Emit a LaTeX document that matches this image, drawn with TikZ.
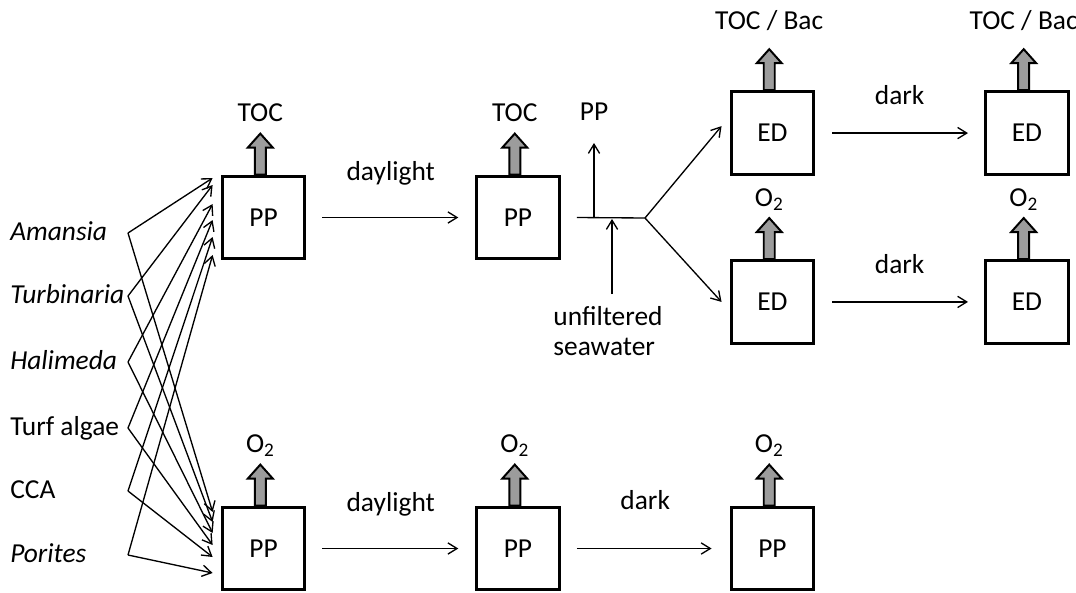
\documentclass[tikz,border=0pt]{standalone}
\usepackage{fontspec}
\setmainfont{Carlito}
\usepackage{tikz}
\usetikzlibrary{arrows.meta}
\usetikzlibrary{positioning}
\tikzset{
    box/.style={
           rectangle,
           draw=black, line width=2.1pt,
           minimum width=2.07cm, minimum height=2.07cm,
           inner sep=0pt,
           text centered,
           },
    flow/.style={->, line width=0.95pt},
    flux/.style={draw=black, line width=1.4pt, fill=gray!78},
    taxon/.style={anchor=base west, inner sep=0pt},
    steplabel/.style={anchor=base, yshift=0.92cm},
    darklabel/.style={anchor=base, yshift=0.72cm},
}
% grey output arrow on top of a box, with its label
\newcommand{\outflow}[3][0.3cm]{%
  \begin{scope}[shift={([xshift=-0.08cm]#2.north)}]
    \draw[flux] (-5.5,0) -- (-5.5,-27) -- (-12.5,-27) -- (0,-41) -- (12.5,-27) -- (5.5,-27) -- (5.5,0) -- cycle;
    \coordinate (#2-tip) at (0,-41);
  \end{scope}
  \node[anchor=base, yshift=#1] (#2-out) at (#2-tip) {#3};
}

\begin{document}
\begin{tikzpicture}[x=0.025cm, y=-0.025cm, >={Straight Barb[length=6.5pt,width=8pt]},
    font=\fontsize{19.5}{21.5}\selectfont, node distance=6.36cm]
    \useasboundingbox (0,0) rectangle (1076,592);

        % top row
        \node[box] (pa) at (263.5,217.5) {PP};
        \node[box, right of = pa] (pb) {PP};
        \node[box, right of = pb, yshift = 2.11cm] (eda) {ED};
        \node[box, right of = pb, yshift = -2.11cm] (edb) {ED};
        \node[box, right of = eda] (edc) {ED};
        \node[box, right of = edb] (edd) {ED};
        % bottom row
        \node[box] (pc) at (263.5,548.5) {PP};
        \node[box, right of = pc] (pd) {PP};
        \node[box, right of = pd] (pe) {PP};

        \outflow{pa}{TOC}
        \outflow{pb}{TOC}
        \outflow[0.5cm]{eda}{TOC / Bac}
        \outflow[0.5cm]{edc}{TOC / Bac}
        \outflow{edb}{O\textsubscript{2}}
        \outflow{edd}{O\textsubscript{2}}
        \outflow{pc}{O\textsubscript{2}}
        \outflow{pd}{O\textsubscript{2}}
        \outflow{pe}{O\textsubscript{2}}

        \path[flow] (pa) edge[shorten <=0.4cm, shorten >=0.42cm] node[steplabel]{daylight} (pb)
        (pc) edge[shorten <=0.4cm, shorten >=0.42cm] node[steplabel]{daylight} (pd)
        (pd) edge[shorten <=0.4cm, shorten >=0.45cm] node[steplabel, yshift=0.05cm]{dark} (pe)
        (eda) edge[shorten <=0.42cm, shorten >=0.4cm] node[darklabel]{dark} (edc)
        (edb) edge[shorten <=0.42cm, shorten >=0.4cm] node[darklabel]{dark} (edd);

        % splitting the incubation water
        \coordinate (split) at (645,218);
        \coordinate (ppout) at (594,218);
        \coordinate (pptip) at (594,143);
        \coordinate (inlet) at (612,219);
        \draw[line width=0.95pt] ([xshift=0.4cm]pb.east) -- (split);
        \draw[flow] (split) -- ([xshift=-0.2cm, yshift=0.175cm]eda.west);
        \draw[flow] (split) -- ([xshift=-0.2cm]edb.west);
        \draw[flow] (ppout) -- (pptip) node[anchor=base, yshift=0.55cm] (ppl) {PP};
        \node[anchor=north, align=left, inner sep=0pt] (sea) at (608,306) {unfiltered\\seawater};
        \coordinate (seatop) at ([yshift=0.3cm]sea.north);
        \draw[flow] (seatop -| inlet) -- (inlet);

        % sources
        \coordinate (pain) at ([xshift=-0.2cm]pa.west);
        \coordinate (pcin) at ([xshift=-0.2cm]pc.west);
        \foreach \name/\yy/\ta/\tb [count=\i] in {\textit{Amansia}/240/178/512,\textit{Turbinaria}/303/185/522,\textit{Halimeda}/369/204/533,Turf algae/435/220/545,CCA/498/237/557,\textit{Porites}/562/255/573}{
            \node[taxon] (t\i) at (10,\yy) {\name};
            \coordinate (v\i) at (128,\yy-7);
            \path (0,\ta) coordinate (ya\i) (0,\tb) coordinate (yb\i);
            \draw[flow] (v\i) -- (pain |- ya\i);
            \draw[flow] (v\i) -- (pcin |- yb\i);
        }
    \end{tikzpicture}
\end{document}
